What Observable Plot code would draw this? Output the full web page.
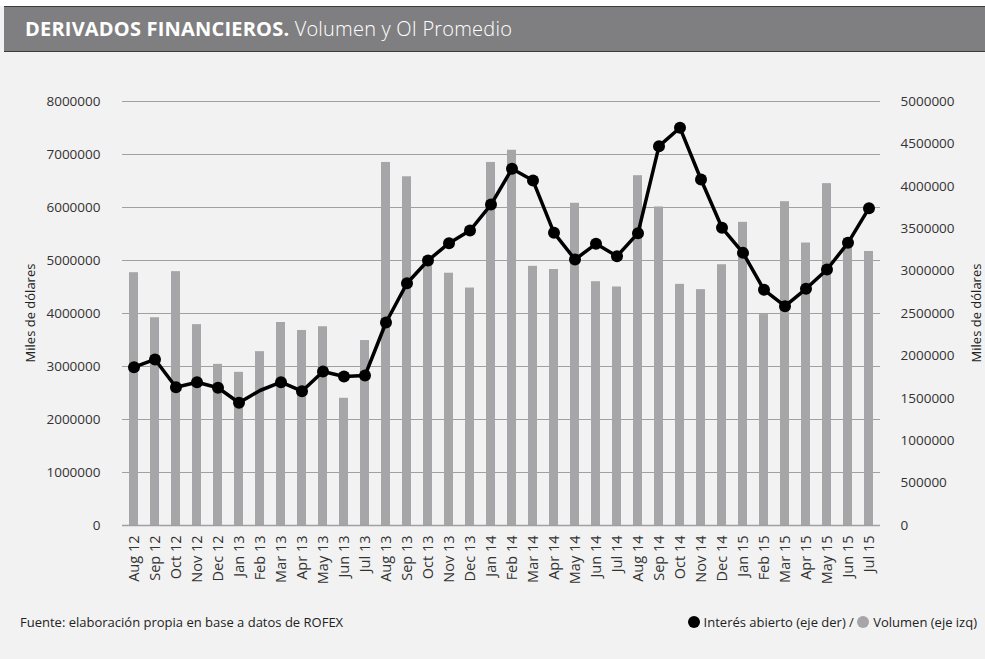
<!DOCTYPE html>
<html>
<head>
<meta charset="utf-8">
<script src="https://cdn.jsdelivr.net/npm/d3@7"></script>
<script src="https://cdn.jsdelivr.net/npm/@observablehq/plot@0.6"></script>
<style>
  html, body { margin:0; padding:0; }
  body { width:985px; height:659px; background:#f2f2f2; position:relative; overflow:hidden; font-family:"Open Sans", sans-serif; }
  #top { position:absolute; left:0; top:0; width:985px; height:6px; background:#fff; }
  #header { position:absolute; left:4px; top:6px; width:981px; height:44px; background:#7f7f81; border-top:1.5px solid #3b3b3b; border-bottom:1.5px solid #3b3b3b; color:#fff; font-size:20px; line-height:44px; }
  #header span.t { font-weight:700; margin-left:21px; letter-spacing:0.2px; }
  #header span.s { font-weight:300; letter-spacing:0.2px; }
  #chart { position:absolute; left:0; top:60px; }
  .ylab { position:absolute; font-size:13px; color:#222; white-space:nowrap; transform-origin:center center; }
  #foot { position:absolute; left:20px; top:613px; font-size:13px; color:#222; }
  #legend { position:absolute; right:8px; top:613px; font-size:13px; color:#222; display:flex; align-items:center; }
  .dot { display:inline-block; width:12px; height:12px; border-radius:50%; margin-right:4px; }
</style>
</head>
<body>
<div id="top"></div>
<div id="header"><span class="t">DERIVADOS FINANCIEROS.</span><span class="s"> Volumen y OI Promedio</span></div>
<div id="chart"></div>
<div class="ylab" id="ylL">Miles de dólares</div>
<div class="ylab" id="ylR">Miles de dólares</div>
<div id="foot">Fuente: elaboración propia en base a datos de ROFEX</div>
<div id="legend"><span class="dot" style="background:#000"></span>Interés abierto (eje der) /&nbsp;<span class="dot" style="background:#a6a6a8"></span>Volumen (eje izq)</div>
<script>
const months = ["Aug 12","Sep 12","Oct 12","Nov 12","Dec 12","Jan 13","Feb 13","Mar 13","Apr 13","May 13","Jun 13","Jul 13",
  "Aug 13","Sep 13","Oct 13","Nov 13","Dec 13","Jan 14","Feb 14","Mar 14","Apr 14","May 14","Jun 14","Jul 14",
  "Aug 14","Sep 14","Oct 14","Nov 14","Dec 14","Jan 15","Feb 15","Mar 15","Apr 15","May 15","Jun 15","Jul 15"];
const volumen = [4770000,3920000,4790000,3790000,3040000,2890000,3280000,3830000,3680000,3750000,2400000,3490000,
  6850000,6580000,4960000,4760000,4480000,6850000,7080000,4890000,4830000,6080000,4600000,4500000,
  6600000,6010000,4550000,4450000,4920000,5720000,3980000,6110000,5330000,6450000,5420000,5170000];
const interes = [1867000,1958000,1631000,1690000,1624000,1447000,1592000,1690000,1584000,1816000,1757000,1769000,
  2394000,2857000,3125000,3329000,3479000,3785000,4206000,4068000,3451000,3137000,3322000,3176000,
  3447000,4473000,4690000,4080000,3511000,3215000,2779000,2586000,2791000,3019000,3333000,3742000];
const marker = months.map(m => m !== "Feb 13");
const leftTicks = d3.range(0, 8000001, 1000000);
const rightTicks = d3.range(0, 5000001, 500000);
const ratio = 8000000 / 5000000;

const data = months.map((m, i) => ({month: m, vol: volumen[i], oi: interes[i], mk: marker[i]}));

const chart = Plot.plot({
  width: 985,
  height: 540,
  marginLeft: 122,
  marginRight: 105,
  marginTop: 41,
  marginBottom: 75,
  style: {background: "transparent", fontFamily: "'Open Sans', sans-serif", fontSize: "13.5px", color: "#333"},
  x: {domain: months, paddingInner: 0.58, paddingOuter: 0.31, label: null},
  y: {domain: [0, 8000000], label: null},
  marks: [
    Plot.gridY(leftTicks, {stroke: "#a0a0a0", strokeOpacity: 1, strokeWidth: 1}),
    Plot.barY(data, {x: "month", y: "vol", fill: "#a6a6a8"}),
    Plot.ruleY([0], {stroke: "#a0a0a0", strokeWidth: 1.5}),
    Plot.line(data, {x: "month", y: d => d.oi * ratio, stroke: "#000", strokeWidth: 3.5}),
    Plot.dot(data.filter(d => d.mk), {x: "month", y: d => d.oi * ratio, r: 6, fill: "#000"}),
    Plot.axisY(leftTicks, {anchor: "left", tickSize: 0, tickPadding: 22, tickFormat: d => String(d), label: null, fill: "#333"}),
    Plot.axisY(rightTicks.map(v => v * ratio), {anchor: "right", tickSize: 0, tickPadding: 20, textAnchor: "start", tickFormat: d => String(Math.round(d / ratio)), label: null, fill: "#333"}),
    Plot.axisX({tickSize: 0, tickPadding: 10, tickRotate: -90, label: null, fill: "#333", fontSize: 14.5})
  ]
});
document.getElementById("chart").appendChild(chart);

function placeYLabel(id, cx, cy) {
  const el = document.getElementById(id);
  const w = el.offsetWidth, h = el.offsetHeight;
  el.style.left = (cx - w / 2) + "px";
  el.style.top = (cy - h / 2) + "px";
  el.style.transform = "rotate(-90deg)";
}
placeYLabel("ylL", 30, 313);
placeYLabel("ylR", 976, 313);
</script>
</body>
</html>
